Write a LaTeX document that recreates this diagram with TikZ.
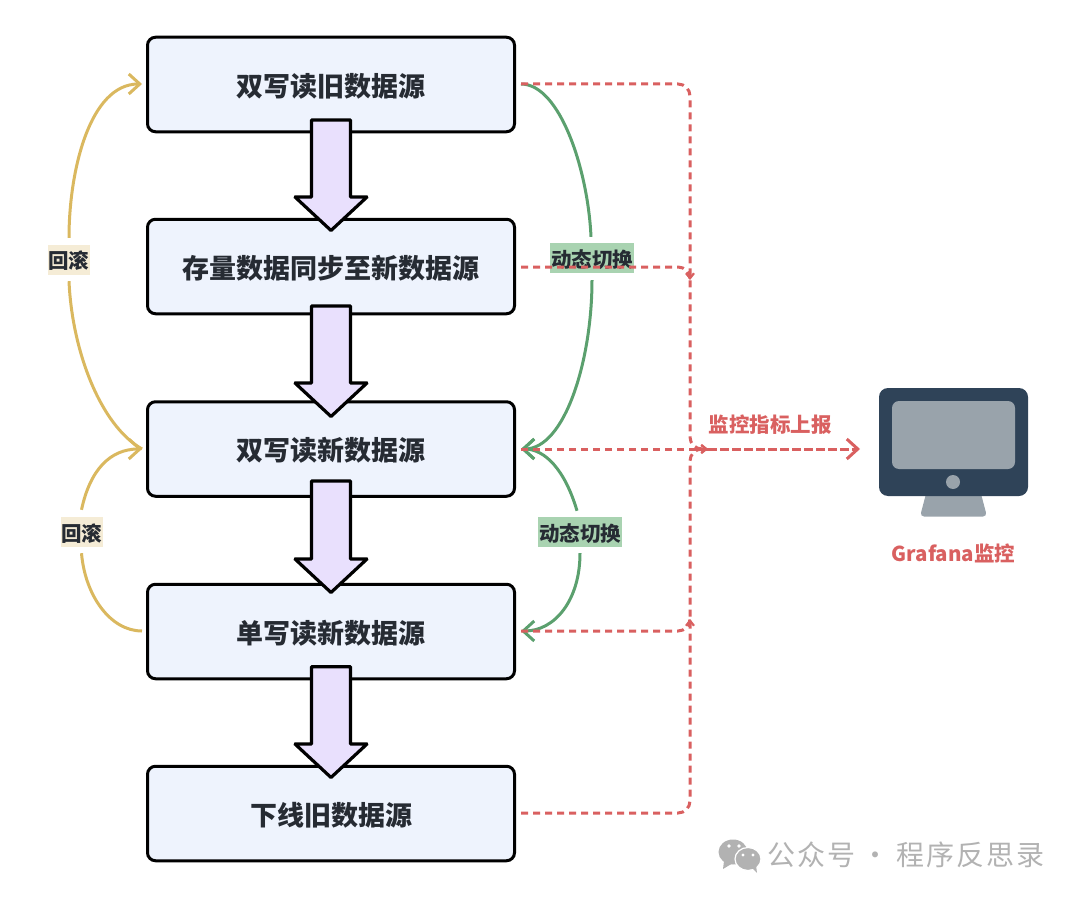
\documentclass[tikz,border=0pt]{standalone}
\usepackage{fontspec}
\setmainfont{Noto Sans CJK SC}
\newfontfamily\wmfont[LetterSpace=7]{Noto Sans CJK SC}
\usetikzlibrary{arrows.meta,calc}
\definecolor{boxfill}{HTML}{EEF3FD}
\definecolor{arrowfill}{HTML}{E9E0FD}
\definecolor{inkdark}{HTML}{262B33}
\definecolor{gold}{HTML}{DAB85F}
\definecolor{goldbg}{HTML}{F5ECD6}
\definecolor{leaf}{HTML}{5BA06E}
\definecolor{leafbg}{HTML}{A9D3B1}
\definecolor{alarm}{HTML}{D96060}
\definecolor{screenframe}{HTML}{2F4358}
\definecolor{screengrey}{HTML}{99A3AB}
\definecolor{wmgrey}{HTML}{B2B2B2}
\newcommand{\lowertext}[2]{\raisebox{\dimexpr-0.38em-#1pt\relax}[0pt][0pt]{#2}}
\tikzset{
  stepbox/.style={draw=black,line width=3pt,fill=boxfill,rounded corners=8pt,minimum width=367pt,minimum height=94.5pt,inner sep=0pt,text=inkdark,font=\fontsize{27}{30}\selectfont\bfseries},
  blockarrow/.style={draw=black,line width=3.2pt,fill=arrowfill,line join=miter,rounded corners=0.6pt},
  tagtext/.style={inner sep=0pt,minimum height=30pt,text=inkdark,font=\fontsize{20.5}{24}\selectfont\bfseries},
  goldtag/.style={tagtext,fill=goldbg,minimum width=42pt},
  leaftag/.style={tagtext,fill=leafbg,minimum width=84pt},
  goldline/.style={draw=gold,line width=3pt},
  leafline/.style={draw=leaf,line width=3pt},
  barb/.style={-{Straight Barb[length=11pt,width=20pt,line width=3pt]}},
  redline/.style={draw=alarm,line width=3pt,dash pattern=on 7pt off 5pt,rounded corners=12pt},
  redlong/.style={draw=alarm,line width=3pt,dash pattern=on 8.5pt off 3.5pt},
  tinyhead/.style={-{Straight Barb[length=5pt,width=8pt,line width=2.2pt]}},
  bighead/.style={-{Straight Barb[length=11pt,width=20pt,line width=3pt]}},
  redtext/.style={inner sep=0pt,text=alarm,font=\fontsize{20.5}{24}\selectfont\bfseries},
}
% source, target, offset from source south, offset from target north
\newcommand{\blockdown}[4]{%
  \draw[blockarrow] ($(#1.south)+(-19.5,#3-1.5)$) -- ($(#1.south)+(19.5,#3-1.5)$)
    -- ($(#2.north)+(19.5,#4-31.5)$) -- ($(#2.north)+(36,#4-31.5)$) -- ($(#2.north)+(0,#4+2)$)
    -- ($(#2.north)+(-36,#4-31.5)$) -- ($(#2.north)+(-19.5,#4-31.5)$) -- cycle;}
\begin{document}
\begin{tikzpicture}[x=1pt,y=-1pt]
\useasboundingbox (0,0) rectangle (1080,899);
% steps
\node[stepbox] (s1) at (331,84.5) {\lowertext{1.7}{双写读旧数据源}};
\node[stepbox] (s2) at (331,266.5) {\lowertext{1.7}{存量数据同步至新数据源}};
\node[stepbox] (s3) at (331,449) {\lowertext{1.7}{双写读新数据源}};
\node[stepbox] (s4) at (331,631.5) {\lowertext{1.7}{单写读新数据源}};
\node[stepbox] (s5) at (331,813.5) {\lowertext{1.7}{下线旧数据源}};
\blockdown{s1}{s2}{-11.75}{10.75}
\blockdown{s2}{s3}{-7.75}{14.25}
\blockdown{s3}{s4}{-15.25}{7.75}
\blockdown{s4}{s5}{-12}{10.75}
% ports
\coordinate (lp1) at (142,84);
\coordinate (lp3) at (142,449);
\coordinate (lp4) at (142,631);
\coordinate (rp1) at (521,84);
\coordinate (rp2) at (521,267);
\coordinate (rp3) at (521,449);
\coordinate (rp4) at (521,631);
\coordinate (rp5) at (521,813);
% tags
\node[goldtag] (g1) at (69,260) {\lowertext{1}{回滚}};
\node[goldtag] (g2) at (81.5,532) {\lowertext{1.5}{回滚}};
\node[leaftag] (l1) at (592,258) {\lowertext{1.5}{动态切换}};
\node[leaftag] (l2) at (580,532) {\lowertext{1.5}{动态切换}};
% gold curves
\draw[goldline,barb] ($(g1.north)+(0,-7)$) .. controls (69,170) and (90,84) .. (lp1);
\draw[goldline] ($(g1.south)+(0,6)$) .. controls (72,350) and (100,425) .. (lp3);
\draw[goldline,barb] ($(g2.north)+(0,-7)$) .. controls (90,470) and (110,449) .. (lp3);
\draw[goldline] ($(g2.south)+(0,6)$) .. controls (85,595) and (110,631) .. (lp4);
% green curves
\draw[leafline] (rp1) .. controls (560,84) and (588,170) .. ($(l1.north)+(-1,-6)$);
\draw[leafline,barb] ($(l1.south)+(0,7)$) .. controls (592,360) and (565,449) .. (rp3);
\draw[leafline,barb] ($(l2.north)+(-3,-6)$) .. controls (565,470) and (545,449) .. (rp3);
\draw[leafline,barb] ($(l2.south)+(0,6)$) .. controls (580,600) and (555,631) .. (rp4);
% red dashed
\coordinate (mon) at (860,449);
\coordinate (busin) at (708,449);
\draw[redline,tinyhead] (rp1) -- (690,84) -- (690,449) -- (busin);
\draw[redline,tinyhead] (rp2) -- (690,267) -- (690,280);
\draw[redline,tinyhead] (rp4) -- (690,631) -- (690,619);
\draw[redline,tinyhead] (rp5) -- (690,813) -- (690,449) -- (busin);
\draw[redline] (rp3) -- (busin);
\draw[redlong,bighead] (busin) -- (mon);
\node[redtext] (mt) at (770,425) {监控指标上报};
% monitor
\fill[screengrey,rounded corners=4pt] (927,490) -- (980,490) -- (987,516.5) -- (920,516.5) -- cycle;
\fill[screenframe,rounded corners=9pt] (879,388) rectangle (1028,496);
\fill[screengrey,rounded corners=7pt] (892,401) rectangle (1015,469);
\fill[screengrey] (953,482) circle[radius=7];
\node[redtext] (gr) at (953.5,553) {Grafana监控};
% watermark
\fill[wmgrey] (733,852) ellipse[x radius=14.5,y radius=12.5];
\fill[wmgrey] (724,861) -- (723,869) -- (733,863) -- cycle;
\fill[white] (729,846) circle[radius=1.8];
\fill[white] (739,846) circle[radius=1.8];
\draw[white,line width=1.2pt,fill=wmgrey] (748,859) ellipse[x radius=13,y radius=11.5];
\fill[wmgrey] (752,868) -- (757,873) -- (756,865) -- cycle;
\fill[white] (743,855) circle[radius=1.6];
\fill[white] (753,855) circle[radius=1.6];
\node[inner sep=0pt,text=wmgrey,font=\fontsize{28}{32}\selectfont\wmfont] (wm) at (906,855) {公众号\hspace{-3pt} · \hspace{-1pt}程序反思录};
\end{tikzpicture}
\end{document}
